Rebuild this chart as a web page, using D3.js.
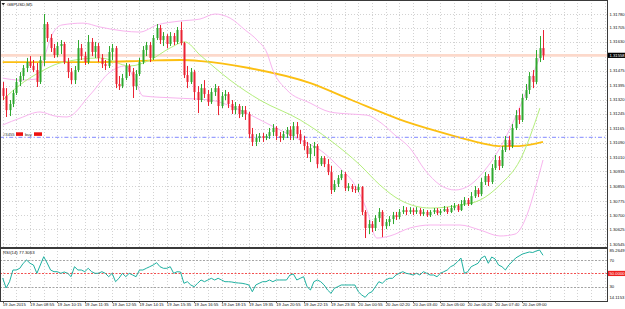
<!DOCTYPE html>
<html>
<head>
<meta charset="utf-8">
<script src="https://cdn.jsdelivr.net/npm/d3@7"></script>
<style>
  body { margin: 0; background: #fff; }
  svg { display: block; }
  text { font-family: "Liberation Sans", Arial, sans-serif; }
</style>
</head>
<body>
<div id="container"></div>
<script>
/**
 * CONSTANTS AND GLOBALS
 * */
const width = 625,
  height = 309;

// panels: main price window, RSI window underneath
const plotRight = 607;
const mainPanel = { top: 0, bottom: 247 };
const rsiPanel = { top: 248, bottom: 301 };

/**
 * DATA
 * */
const symbol = "GBPUSD,M5";

// candles as [open, high, low, close]
const candles = [
  [1.31382,1.31415,1.31318,1.31340],[1.31340,1.31382,1.31227,1.31264],[1.31264,1.31318,1.31232,1.31297],[1.31297,1.31372,1.31280,1.31356],
  [1.31356,1.31436,1.31345,1.31415],[1.31415,1.31468,1.31393,1.31447],[1.31447,1.31506,1.31425,1.31490],[1.31490,1.31544,1.31468,1.31522],
  [1.31522,1.31554,1.31490,1.31501],[1.31501,1.31533,1.31468,1.31479],[1.31479,1.31517,1.31388,1.31415],[1.31415,1.31554,1.31404,1.31533],
  [1.31533,1.31780,1.31501,1.31726],[1.31726,1.31737,1.31630,1.31651],[1.31651,1.31672,1.31576,1.31597],[1.31597,1.31619,1.31544,1.31560],
  [1.31560,1.31630,1.31549,1.31608],[1.31608,1.31640,1.31565,1.31619],[1.31619,1.31630,1.31511,1.31522],[1.31522,1.31544,1.31436,1.31468],
  [1.31468,1.31490,1.31404,1.31425],[1.31425,1.31501,1.31404,1.31479],[1.31479,1.31640,1.31468,1.31597],[1.31597,1.31619,1.31533,1.31554],
  [1.31554,1.31576,1.31506,1.31522],[1.31522,1.31667,1.31511,1.31630],[1.31630,1.31651,1.31554,1.31576],[1.31576,1.31630,1.31544,1.31608],
  [1.31608,1.31624,1.31522,1.31544],[1.31544,1.31565,1.31490,1.31511],[1.31511,1.31533,1.31479,1.31501],[1.31501,1.31608,1.31490,1.31576],
  [1.31576,1.31619,1.31533,1.31597],[1.31597,1.31608,1.31382,1.31404],[1.31404,1.31447,1.31372,1.31393],[1.31393,1.31458,1.31382,1.31436],
  [1.31436,1.31517,1.31425,1.31501],[1.31501,1.31511,1.31447,1.31468],[1.31468,1.31490,1.31329,1.31393],[1.31393,1.31479,1.31372,1.31458],
  [1.31458,1.31544,1.31447,1.31522],[1.31522,1.31608,1.31511,1.31587],[1.31587,1.31630,1.31554,1.31613],[1.31613,1.31630,1.31522,1.31544],
  [1.31544,1.31667,1.31533,1.31651],[1.31651,1.31726,1.31640,1.31705],[1.31705,1.31721,1.31619,1.31640],[1.31640,1.31683,1.31608,1.31662],
  [1.31662,1.31672,1.31597,1.31619],[1.31619,1.31683,1.31608,1.31662],[1.31662,1.31678,1.31613,1.31630],[1.31630,1.31710,1.31619,1.31694],
  [1.31694,1.31737,1.31613,1.31624],[1.31624,1.31630,1.31436,1.31452],[1.31452,1.31501,1.31382,1.31415],[1.31415,1.31490,1.31404,1.31468],
  [1.31468,1.31479,1.31318,1.31361],[1.31361,1.31393,1.31248,1.31318],[1.31318,1.31404,1.31307,1.31382],[1.31382,1.31425,1.31329,1.31350],
  [1.31350,1.31372,1.31286,1.31307],[1.31307,1.31382,1.31297,1.31361],[1.31361,1.31404,1.31340,1.31382],[1.31382,1.31393,1.31237,1.31286],
  [1.31286,1.31361,1.31275,1.31340],[1.31340,1.31372,1.31318,1.31350],[1.31350,1.31361,1.31275,1.31297],[1.31297,1.31318,1.31243,1.31264],
  [1.31264,1.31307,1.31243,1.31286],[1.31286,1.31297,1.31221,1.31243],[1.31243,1.31286,1.31227,1.31264],[1.31264,1.31286,1.31211,1.31243],
  [1.31243,1.31254,1.31114,1.31135],[1.31135,1.31168,1.31071,1.31093],[1.31093,1.31135,1.31071,1.31114],[1.31114,1.31141,1.31093,1.31125],
  [1.31125,1.31141,1.31093,1.31114],[1.31114,1.31135,1.31103,1.31125],[1.31125,1.31168,1.31109,1.31146],[1.31146,1.31189,1.31125,1.31168],
  [1.31168,1.31178,1.31103,1.31125],[1.31125,1.31146,1.31093,1.31114],[1.31114,1.31152,1.31103,1.31135],[1.31135,1.31173,1.31114,1.31157],
  [1.31157,1.31178,1.31103,1.31125],[1.31125,1.31200,1.31103,1.31178],[1.31178,1.31200,1.31114,1.31135],[1.31135,1.31157,1.31082,1.31103],
  [1.31103,1.31125,1.31050,1.31071],[1.31071,1.31093,1.31007,1.31028],[1.31028,1.31082,1.30985,1.31060],[1.31060,1.31093,1.31017,1.31071],
  [1.31071,1.31082,1.30953,1.30974],[1.30974,1.31017,1.30964,1.31007],[1.31007,1.31017,1.30958,1.30974],[1.30974,1.31001,1.30915,1.30931],
  [1.30931,1.30964,1.30813,1.30835],[1.30835,1.30888,1.30824,1.30867],[1.30867,1.30915,1.30851,1.30899],[1.30899,1.30942,1.30888,1.30921],
  [1.30921,1.30931,1.30829,1.30845],[1.30845,1.30872,1.30829,1.30856],[1.30856,1.30867,1.30824,1.30840],[1.30840,1.30856,1.30819,1.30835],
  [1.30835,1.30867,1.30824,1.30851],[1.30851,1.30856,1.30700,1.30717],[1.30717,1.30727,1.30577,1.30631],[1.30631,1.30674,1.30598,1.30652],
  [1.30652,1.30668,1.30609,1.30631],[1.30631,1.30700,1.30615,1.30684],[1.30684,1.30738,1.30663,1.30717],[1.30717,1.30727,1.30582,1.30641],
  [1.30641,1.30679,1.30625,1.30663],[1.30663,1.30695,1.30641,1.30679],[1.30679,1.30717,1.30652,1.30700],[1.30700,1.30717,1.30674,1.30690],
  [1.30690,1.30733,1.30679,1.30717],[1.30717,1.30749,1.30706,1.30727],[1.30727,1.30743,1.30700,1.30717],[1.30717,1.30743,1.30706,1.30727],
  [1.30727,1.30738,1.30700,1.30717],[1.30717,1.30743,1.30706,1.30727],[1.30727,1.30738,1.30695,1.30706],[1.30706,1.30733,1.30695,1.30717],
  [1.30717,1.30727,1.30690,1.30700],[1.30700,1.30727,1.30690,1.30717],[1.30717,1.30738,1.30706,1.30727],[1.30727,1.30738,1.30700,1.30711],
  [1.30711,1.30733,1.30700,1.30722],[1.30722,1.30749,1.30717,1.30733],[1.30733,1.30743,1.30706,1.30717],[1.30717,1.30754,1.30711,1.30738],
  [1.30738,1.30765,1.30727,1.30749],[1.30749,1.30760,1.30717,1.30727],[1.30727,1.30781,1.30722,1.30759],[1.30759,1.30797,1.30749,1.30781],
  [1.30781,1.30792,1.30749,1.30759],[1.30759,1.30824,1.30754,1.30802],[1.30802,1.30856,1.30792,1.30835],[1.30835,1.30845,1.30797,1.30813],
  [1.30813,1.30899,1.30802,1.30878],[1.30878,1.30931,1.30862,1.30910],[1.30910,1.30921,1.30856,1.30878],[1.30878,1.30974,1.30867,1.30953],
  [1.30953,1.31023,1.30942,1.30996],[1.30996,1.31017,1.30942,1.30964],[1.30964,1.31071,1.30953,1.31050],[1.31050,1.31125,1.31039,1.31103],
  [1.31103,1.31125,1.31050,1.31071],[1.31071,1.31189,1.31060,1.31168],[1.31168,1.31264,1.31157,1.31237],[1.31237,1.31275,1.31189,1.31211],
  [1.31211,1.31350,1.31200,1.31329],[1.31329,1.31404,1.31318,1.31372],[1.31372,1.31468,1.31350,1.31447],[1.31447,1.31479,1.31382,1.31415],
  [1.31415,1.31587,1.31404,1.31544],[1.31544,1.31662,1.31522,1.31597],[1.31597,1.31694,1.31533,1.31558]
];

// indicator curves as [bar index, price]
const upperBand = [[0,1.31436],[5.1,1.31425],[10,1.31431],[12.4,1.31560],[14.4,1.31667],[17.3,1.31721],[23.5,1.31731],[28.5,1.31710],
  [35.2,1.31689],[40.1,1.31683],[45.1,1.31721],[51.8,1.31742],[57.7,1.31753],[62.1,1.31780],[66.5,1.31758],[70.9,1.31694],
  [74.4,1.31640],[77.3,1.31570],[79,1.31479],[83.1,1.31372],[89.9,1.31302],[95.7,1.31254],[101.5,1.31243],[106.5,1.31237],
  [110.3,1.31200],[114.7,1.31130],[119.1,1.31060],[123.5,1.30942],[127.9,1.30862],[132.3,1.30835],[136.7,1.30862],[141,1.30942],
  [145.4,1.31060],[149.8,1.31221],[154.2,1.31415],[158,1.31597]];
const lowerBand = [[0,1.31184],[5.1,1.31221],[10.9,1.31254],[15.3,1.31232],[18.8,1.31227],[25.5,1.31345],[31.4,1.31468],[35.8,1.31501],
  [38.7,1.31425],[41,1.31340],[50.4,1.31329],[60.6,1.31318],[69.4,1.31264],[78.2,1.31184],[87,1.31103],[92.8,1.31050],
  [98.6,1.30953],[103,1.30862],[106.5,1.30727],[109.4,1.30577],[113.2,1.30588],[119.1,1.30631],[125,1.30647],[133.7,1.30647],
  [139.6,1.30620],[145.4,1.30588],[149.8,1.30598],[153.3,1.30700],[155.6,1.30835],[158,1.30996]];
const fastMA = [[0,1.31318],[5,1.31399],[10.9,1.31468],[16.8,1.31517],[28.5,1.31544],[37.2,1.31501],[43.1,1.31533],[48.9,1.31597],
  [53.3,1.31630],[57.7,1.31560],[66.5,1.31425],[75.2,1.31318],[87,1.31211],[95.7,1.31103],[104.5,1.30969],[110.3,1.30862],
  [116.2,1.30781],[125,1.30738],[133.7,1.30754],[139.6,1.30781],[145.4,1.30862],[151.3,1.30996],[157.1,1.31275]];
const slowMA = [[0,1.31522],[28.5,1.31522],[43,1.31530],[52,1.31533],[58,1.31527],[72,1.31490],[90,1.31409],[102,1.31318],
  [119,1.31195],[131,1.31130],[140,1.31087],[145,1.31071],[151,1.31071],[158,1.31093]];

const rsiValues = [43.15,28.10,37.58,55.18,55.18,57.74,65.26,70.22,65.26,62.70,50.22,62.70,75.19,65.71,55.18,52.62,
  52.62,50.22,52.17,50.22,45.10,60.14,55.18,55.18,52.62,57.74,52.62,50.22,50.22,52.62,50.22,45.10,
  50.22,37.58,42.69,50.22,45.10,50.22,47.66,45.10,55.18,55.18,57.74,60.14,62.70,66.16,60.14,57.74,
  57.74,60.14,50.22,52.62,52.17,35.17,37.58,32.62,30.06,35.17,40.14,37.58,40.14,42.69,40.14,42.69,
  40.14,37.58,37.58,37.13,36.08,35.62,35.17,34.12,32.62,22.53,32.62,35.17,37.58,37.58,40.14,37.58,
  40.14,40.14,40.14,40.14,47.66,49.16,40.14,42.69,45.10,30.06,25.09,37.58,40.14,37.58,32.62,25.09,
  20.13,27.65,30.06,32.62,32.62,32.62,32.62,32.62,22.53,17.57,14.1153,20.13,22.53,30.06,37.58,35.17,
  40.14,42.69,42.69,47.66,50.22,52.62,50.22,49.16,47.66,50.22,47.66,52.62,50.22,47.66,47.66,45.10,
  50.22,52.62,55.18,60.14,62.70,67.66,73.23,50.22,52.62,60.14,62.70,65.26,73.23,76.24,65.26,74.73,
  71.73,62.70,60.14,55.18,62.70,67.66,73.23,76.24,79.25,80.75,82.26,81.50,83.76,85.2649,77.3063];
const rsiLevels = [70, 50, 30];

const priceTicks = [1.31780,1.31705,1.31630,1.31475,1.31395,1.31320,1.31245,1.31165,1.31090,1.31010,1.30935,1.30855,1.30775,1.30700,1.30625,1.30545];
const bidPrice = 1.31558;
const orderPrice = 1.31118;

const timeLabels = ["19 Jan 2015","19 Jan 08:55","19 Jan 10:15","19 Jan 11:35","19 Jan 12:55","19 Jan 14:15","19 Jan 15:35",
  "19 Jan 16:55","19 Jan 18:15","19 Jan 19:35","19 Jan 20:55","19 Jan 22:15","19 Jan 23:35","20 Jan 00:55","20 Jan 02:20",
  "20 Jan 03:40","20 Jan 05:00","20 Jan 06:20","20 Jan 07:40","20 Jan 09:00"];
const labelEvery = 8, gridEvery = 4;

/**
 * SCALES
 * */
const x = d3.scaleLinear().domain([0, candles.length - 1]).range([2.7, 543]);
const y = d3.scaleLinear().domain([1.30545, 1.31780]).range([244, 14]);
const yR = d3.scaleLinear().domain(d3.extent(rsiValues)).range([297.3, 250]);

const svg = d3.select("#container").append("svg")
  .attr("width", width).attr("height", height);

// clip lines to their panels
const defs = svg.append("defs");
defs.append("clipPath").attr("id", "clipMain").append("rect")
  .attr("x", 0).attr("y", mainPanel.top).attr("width", plotRight).attr("height", mainPanel.bottom - mainPanel.top);
defs.append("clipPath").attr("id", "clipRsi").append("rect")
  .attr("x", 0).attr("y", rsiPanel.top).attr("width", plotRight).attr("height", rsiPanel.bottom - rsiPanel.top);

/**
 * GRID
 * */
const gridColor = "#c6c6c6";
const lastGridIdx = Math.floor(x.invert(plotRight - 1));
const gridIdx = d3.range(0, lastGridIdx + 1, gridEvery);

[mainPanel, rsiPanel].forEach(p => {
  svg.append("g").selectAll("line").data(gridIdx).join("line")
    .attr("x1", d => Math.round(x(d)) + 0.5).attr("x2", d => Math.round(x(d)) + 0.5)
    .attr("y1", p.top).attr("y2", p.bottom)
    .attr("stroke", gridColor).attr("stroke-width", 0.8).attr("stroke-dasharray", "1,2");
});

svg.append("g").selectAll("line").data(priceTicks).join("line")
  .attr("x1", 0).attr("x2", plotRight)
  .attr("y1", d => Math.round(y(d)) + 0.5).attr("y2", d => Math.round(y(d)) + 0.5)
  .attr("stroke", gridColor).attr("stroke-width", 0.8).attr("stroke-dasharray", "1,2");

/**
 * MAIN WINDOW
 * */
const main = svg.append("g").attr("clip-path", "url(#clipMain)");

// bid line
main.append("line")
  .attr("x1", 0).attr("x2", plotRight).attr("y1", y(bidPrice)).attr("y2", y(bidPrice))
  .attr("stroke", "#fcd9cb").attr("stroke-width", 2.6);

const curve = d3.line().x(d => x(d[0])).y(d => y(d[1])).curve(d3.curveMonotoneX);

main.append("path").datum(slowMA).attr("d", curve)
  .attr("fill", "none").attr("stroke", "#fcbf12").attr("stroke-width", 1.8);

// order line
main.append("line")
  .attr("x1", 0).attr("x2", plotRight).attr("y1", y(orderPrice)).attr("y2", y(orderPrice))
  .attr("stroke", "#9aa0ff").attr("stroke-width", 1.2).attr("stroke-dasharray", "4,2,1.2,2");

[upperBand, lowerBand].forEach(b => {
  main.append("path").datum(b).attr("d", curve)
    .attr("fill", "none").attr("stroke", "#f8b4ee").attr("stroke-width", 1);
});
main.append("path").datum(fastMA).attr("d", curve)
  .attr("fill", "none").attr("stroke", "#b4ee7c").attr("stroke-width", 1);

const bull = "#2ea82e", bear = "#ea2232";
const candleG = main.append("g").selectAll("g").data(candles).join("g");
candleG.append("line")
  .attr("x1", (d, i) => Math.round(x(i)) + 0.5).attr("x2", (d, i) => Math.round(x(i)) + 0.5)
  .attr("y1", d => y(d[1])).attr("y2", d => y(d[2]))
  .attr("stroke", d => d[3] >= d[0] ? bull : bear).attr("stroke-width", 1);
candleG.append("rect")
  .attr("x", (d, i) => Math.round(x(i)) - 0.5).attr("width", 2)
  .attr("y", d => y(Math.max(d[0], d[3])))
  .attr("height", d => Math.max(1, Math.abs(y(d[0]) - y(d[3]))))
  .attr("fill", d => d[3] >= d[0] ? bull : bear);

// title + order label
svg.append("path").attr("d", "M1.5,3 L5,3 L3.25,5.5 Z").attr("fill", "#222");
svg.append("text").attr("x", 7).attr("y", 6.2).attr("font-size", 4.3).attr("fill", "#111").text(symbol);

const orderY = y(orderPrice) - 1.6;
svg.append("text").attr("x", 3).attr("y", orderY).attr("font-size", 4.2).attr("fill", "#333").text("#3455");
svg.append("rect").attr("x", 16).attr("y", orderY - 3.4).attr("width", 7).attr("height", 3.6).attr("fill", "#ee1111");
svg.append("text").attr("x", 25).attr("y", orderY).attr("font-size", 4.2).attr("fill", "#333").text("buy");
svg.append("rect").attr("x", 34).attr("y", orderY - 3.4).attr("width", 8).attr("height", 3.6).attr("fill", "#ee1111");

/**
 * RSI WINDOW
 * */
const rsiG = svg.append("g").attr("clip-path", "url(#clipRsi)");
rsiG.selectAll("line.level").data(rsiLevels).join("line")
  .attr("class", "level")
  .attr("x1", 0).attr("x2", plotRight)
  .attr("y1", d => Math.round(yR(d)) + 0.5).attr("y2", d => Math.round(yR(d)) + 0.5)
  .attr("stroke", d => d === 50 ? "#f03a3a" : "#9a9a9a").attr("stroke-width", 0.9)
  .attr("stroke-dasharray", "2,1.5");

rsiG.append("path").datum(rsiValues)
  .attr("d", d3.line().x((d, i) => x(i)).y(d => yR(d)))
  .attr("fill", "none").attr("stroke", "#1fb0a0").attr("stroke-width", 1);

svg.append("text").attr("x", 3).attr("y", 253.5).attr("font-size", 4.3).attr("fill", "#111")
  .text("RSI(14) " + d3.format(".4f")(rsiValues[rsiValues.length - 1]));

/**
 * FRAMES AND AXES
 * */
[mainPanel, rsiPanel].forEach(p => {
  svg.append("rect").attr("x", 0.5).attr("y", p.top + 0.5)
    .attr("width", plotRight).attr("height", p.bottom - p.top)
    .attr("fill", "none").attr("stroke", "#3a3a3a").attr("stroke-width", 1);
});

const axisFont = 4.2;
svg.append("g").selectAll("text").data(priceTicks).join("text")
  .attr("x", 609.5).attr("y", d => y(d) + 1.5)
  .attr("font-size", axisFont).attr("fill", "#111")
  .text(d => d3.format(".5f")(d));

// bid box
svg.append("rect").attr("x", 608).attr("y", y(bidPrice) - 2.6).attr("width", 17).attr("height", 5.2).attr("fill", "#000");
svg.append("text").attr("x", 609.5).attr("y", y(bidPrice) + 1.5)
  .attr("font-size", axisFont).attr("fill", "#fff").text(d3.format(".5f")(bidPrice));

// rsi scale
const rsiExt = d3.extent(rsiValues);
const rsiLabels = [rsiExt[1], 70, 30, rsiExt[0]];
svg.append("g").selectAll("text").data(rsiLabels).join("text")
  .attr("x", 609.5).attr("y", d => yR(d) + 1.5)
  .attr("font-size", axisFont).attr("fill", "#111")
  .text(d => Number.isInteger(d) ? d : d3.format(".4f")(d));
svg.append("rect").attr("x", 608).attr("y", yR(50) - 2.6).attr("width", 17).attr("height", 5.2).attr("fill", "#ee2020");
svg.append("text").attr("x", 609.5).attr("y", yR(50) + 1.5)
  .attr("font-size", axisFont).attr("fill", "#fff").text(d3.format(".4f")(50));

// time axis
const labelIdx = timeLabels.map((t, i) => i * labelEvery);
svg.append("g").selectAll("text").data(timeLabels).join("text")
  .attr("x", (d, i) => x(labelIdx[i]))
  .attr("y", 305.8)
  .attr("font-size", axisFont).attr("fill", "#111")
  .text(d => d);
svg.append("g").selectAll("line").data(labelIdx).join("line")
  .attr("x1", d => Math.round(x(d)) + 0.5).attr("x2", d => Math.round(x(d)) + 0.5)
  .attr("y1", rsiPanel.bottom).attr("y2", rsiPanel.bottom + 2)
  .attr("stroke", "#3a3a3a").attr("stroke-width", 0.8);
</script>
</body>
</html>
